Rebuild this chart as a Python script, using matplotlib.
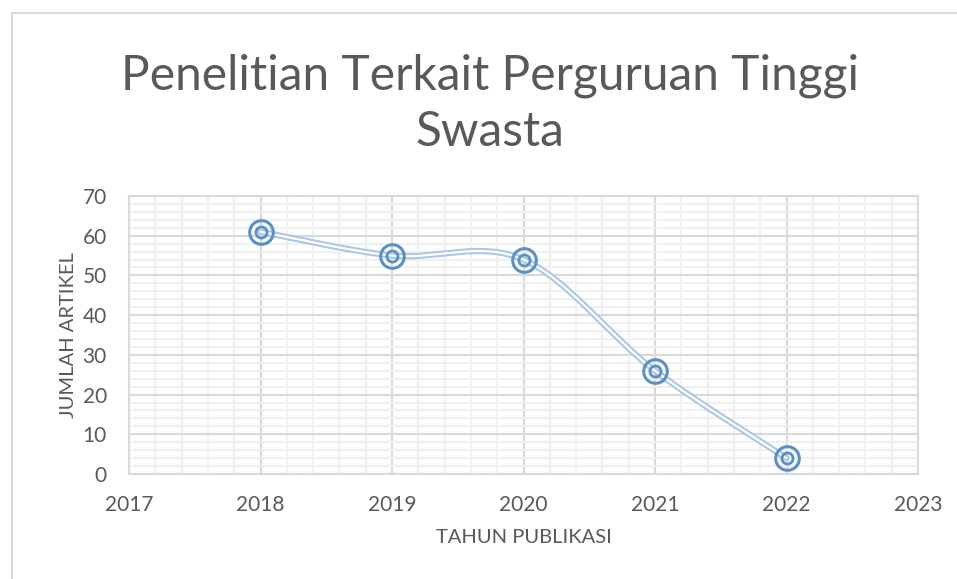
import numpy as np
import matplotlib.pyplot as plt
from matplotlib.path import Path
from matplotlib.patches import PathPatch
from matplotlib.lines import Line2D
from matplotlib.ticker import MultipleLocator

plt.rcParams['font.family'] = ['Lato', 'DejaVu Sans']

# data
years = [2018, 2019, 2020, 2021, 2022]
articles = [61, 55, 54, 26, 4]
title = 'Penelitian Terkait Perguruan Tinggi\nSwasta'
xlabel = 'TAHUN PUBLIKASI'
ylabel = 'JUMLAH ARTIKEL'

W, H = 957, 579
fig = plt.figure(figsize=(W / 100, H / 100), dpi=100)
ax = fig.add_axes([129 / W, 1 - 474 / H, (918 - 129) / W, (474 - 196) / H])

ax.set_xlim(2017, 2023)
ax.set_ylim(0, 70)
ax.xaxis.set_major_locator(MultipleLocator(1))
ax.xaxis.set_minor_locator(MultipleLocator(0.2))
ax.yaxis.set_major_locator(MultipleLocator(10))
ax.yaxis.set_minor_locator(MultipleLocator(2))
ax.grid(which='minor', color='#f0f0f0', lw=1.5)
ax.grid(which='major', color='#d9d9d9', lw=1.5)
ax.set_axisbelow(True)
for s in ax.spines.values():
    s.set_color('#d9d9d9')
    s.set_linewidth(1.5)
ax.tick_params(which='both', length=0, colors='#595959', labelsize=15)
ax.tick_params(axis='x', pad=15)
ax.tick_params(axis='y', pad=16)

# smoothed line (Catmull-Rom style bezier like spreadsheet smoothing)
pts = np.column_stack([years, articles]).astype(float)
verts = [pts[0]]
codes = [Path.MOVETO]
n = len(pts)
for i in range(n - 1):
    p0 = pts[max(i - 1, 0)]
    p1 = pts[i]
    p2 = pts[i + 1]
    p3 = pts[min(i + 2, n - 1)]
    c1 = p1 + (p2 - p0) / 6
    c2 = p2 - (p3 - p1) / 6
    verts += [c1, c2, p2]
    codes += [Path.CURVE4] * 3
path = Path(verts, codes)
ax.add_patch(PathPatch(path, fill=False, ec='#a9c7e8', lw=4.5, capstyle='round', zorder=3))
ax.add_patch(PathPatch(path, fill=False, ec='white', lw=1.6, capstyle='round', zorder=4))

ax.plot(years, articles, 'o', ms=17, mfc='none', mec='#5b8fc7', mew=2.2, zorder=5)
ax.plot(years, articles, 'o', ms=8, mfc='none', mec='#5b8fc7', mew=2.0, zorder=5)

ax.set_xlabel(xlabel, color='#595959', fontsize=14.5, labelpad=10)
ax.set_ylabel(ylabel, color='#595959', fontsize=14.5, labelpad=4)

fig.text(490 / W, 1 - 104 / H, title, ha='center', va='center', color='#595959',
         fontsize=34.5, linespacing=1.32)

# chart border
fig.add_artist(Line2D([12 / W, 12 / W], [0, 1 - 13 / H], color='#d9d9d9', lw=1.5))
fig.add_artist(Line2D([12 / W, 1], [1 - 13 / H, 1 - 13 / H], color='#d9d9d9', lw=1.5))

fig.savefig('out.png', dpi=100)
